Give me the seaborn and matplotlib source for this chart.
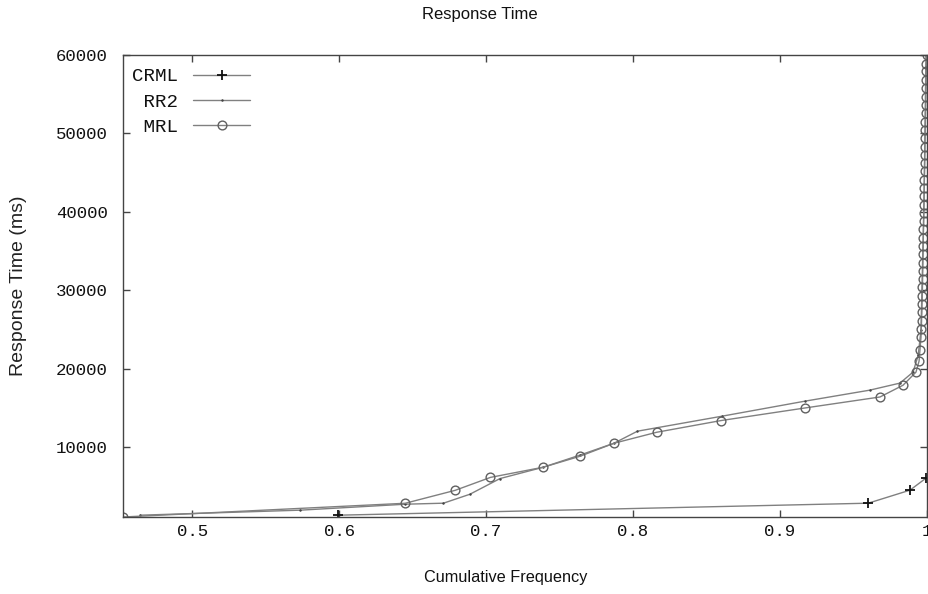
import matplotlib
matplotlib.use("Agg")
import matplotlib.pyplot as plt
import seaborn as sns
import pandas as pd
from matplotlib.ticker import FormatStrFormatter, FixedLocator

# ---------------- data ----------------
series_names = ["CRML", "RR2", "MRL"]

crml_x = [0.5993, 0.9600, 0.9884, 0.9993]
crml_y = [1330, 2860, 4520, 6050]

rr2_x = [0.4646, 0.5735, 0.6450, 0.6710, 0.6890, 0.7095, 0.7390, 0.7640, 0.7870,
         0.8030, 0.8605, 0.9170, 0.9610, 0.9816, 0.9905, 0.9940, 0.9959, 0.9980, 0.9993]
rr2_y = [1330, 1970, 2730, 2860, 4000, 6000, 7450, 9000, 10500,
         12040, 13950, 15870, 17270, 18170, 19570, 21700, 24900, 41500, 60000]

mrl_x = [0.4530, 0.6450, 0.6790, 0.7030, 0.7390, 0.7640, 0.7870, 0.8160, 0.8600,
         0.9170, 0.9680, 0.9837, 0.9925, 0.9946, 0.9952,
         0.9959, 0.9961, 0.9963, 0.9965, 0.9966, 0.9968, 0.9969, 0.9970, 0.9971,
         0.9972, 0.9973, 0.9974, 0.9975, 0.9976, 0.9977, 0.9978, 0.9979, 0.9980,
         0.9981, 0.9982, 0.9983, 0.9984, 0.9985, 0.9986, 0.9987, 0.9988, 0.9989,
         0.9990, 0.9991, 0.9992, 0.9993, 0.9994, 0.9995, 0.9996, 0.9997]
mrl_y = [1100, 2850, 4500, 6150, 7450, 8850, 10500, 11900, 13400,
         15000, 16400, 17900, 19570, 20970, 22370,
         24000, 25100, 26100, 27200, 28200, 29300, 30400, 31400, 32500,
         33500, 34600, 35600, 36700, 37800, 38800, 39900, 40900, 42000,
         43100, 44100, 45200, 46200, 47300, 48300, 49400, 50500, 51500,
         52600, 53600, 54700, 55800, 56800, 57900, 58900, 60000]

x_ticks = [0.5, 0.6, 0.7, 0.8, 0.9, 1.0]
y_ticks = [10000, 20000, 30000, 40000, 50000, 60000]

title = "Response Time"
x_label = "Cumulative Frequency"
y_label = "Response Time (ms)"

# ---------------- style ----------------
sns.set_theme(style="white")
plt.rcParams["font.family"] = ["Liberation Sans", "DejaVu Sans"]

W, H = 929, 594
fig = plt.figure(figsize=(W / 100, H / 100), dpi=100)
ax = fig.add_axes([123 / W, 1 - 517 / H, (927 - 123) / W, (517 - 55) / H])
ax.set_facecolor("white")

line_col = "#808080"
mono = "Liberation Mono"
w = max(len(s) for s in series_names)
labels = [s.rjust(w) for s in series_names]

df_c = pd.DataFrame({"x": crml_x, "y": crml_y})
df_r = pd.DataFrame({"x": rr2_x, "y": rr2_y})
df_m = pd.DataFrame({"x": mrl_x, "y": mrl_y})

sns.lineplot(data=df_c, x="x", y="y", ax=ax, sort=False, estimator=None,
             color=line_col, lw=1.0, marker="+", markersize=7.5,
             markeredgewidth=1.3, markeredgecolor="#111111", label=labels[0])
sns.lineplot(data=df_r, x="x", y="y", ax=ax, sort=False, estimator=None,
             color=line_col, lw=1.0, marker=".", markersize=2.0,
             markeredgecolor="#444444", markerfacecolor="#444444", label=labels[1])
sns.lineplot(data=df_m, x="x", y="y", ax=ax, sort=False, estimator=None,
             color=line_col, lw=1.0, marker="o", markersize=6.3,
             markeredgewidth=1.0, markeredgecolor="#606060",
             markerfacecolor="none", label=labels[2])

all_x = crml_x + rr2_x + mrl_x
all_y = crml_y + rr2_y + mrl_y
ax.set_xlim(min(all_x), 1.0)
ax.set_ylim(min(all_y), max(all_y))

ax.xaxis.set_major_locator(FixedLocator(x_ticks))
ax.yaxis.set_major_locator(FixedLocator(y_ticks))
ax.xaxis.set_major_formatter(FormatStrFormatter("%g"))
ax.yaxis.set_major_formatter(FormatStrFormatter("%d"))

for s in ax.spines.values():
    s.set_visible(True)
    s.set_color("#444444")
    s.set_linewidth(1.0)

ax.tick_params(axis="both", which="major", direction="in", length=5, width=1.0,
               color="#444444", top=True, right=True, bottom=True, left=True,
               labelsize=12.5, labelcolor="#111111")
ax.tick_params(axis="x", pad=5)
ax.tick_params(axis="y", pad=11)
for t in ax.get_xticklabels() + ax.get_yticklabels():
    t.set_family(mono)

fig.text(480 / W, 1 - 14 / H, title, fontsize=12, color="#111111",
         ha="center", va="center")
ax.set_xlabel(x_label, fontsize=11.7, color="#111111")
ax.xaxis.set_label_coords((506 - 123) / 804, (517 - 570) / 462)
ax.set_ylabel(y_label, fontsize=14, color="#222222")
ax.yaxis.set_label_coords((27 - 123) / 804, 0.5)

leg = ax.legend(loc="upper left", bbox_to_anchor=(-0.0045, 1.0), frameon=False,
                markerfirst=False, handlelength=2.97, handletextpad=0.78,
                labelspacing=0.41, borderaxespad=0.27,
                prop={"family": mono, "size": 13.8})
for t in leg.get_texts():
    t.set_color("#111111")

fig.savefig("out.png", dpi=100, facecolor="white")
